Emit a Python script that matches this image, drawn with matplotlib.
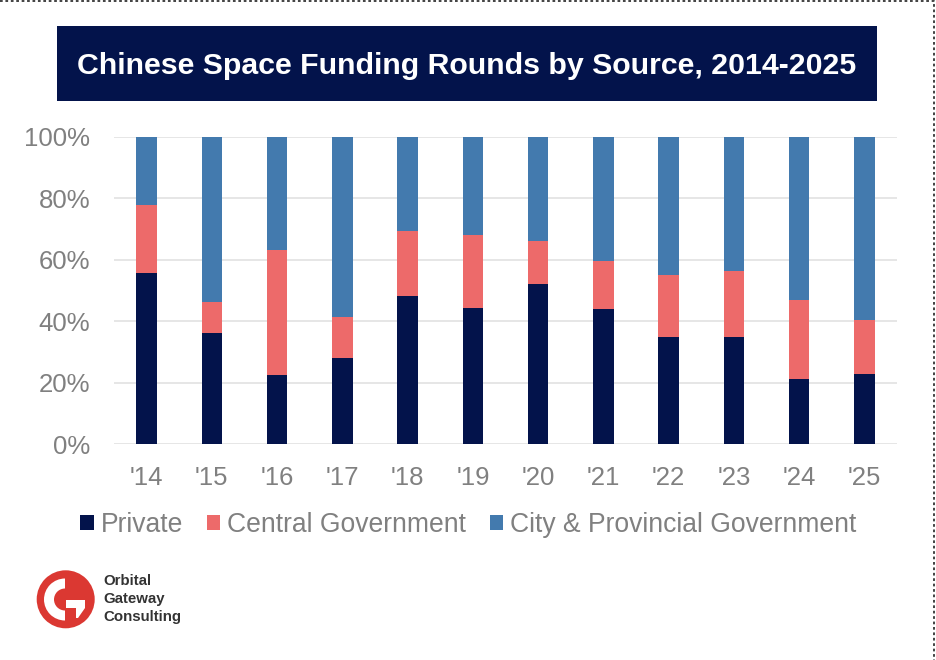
import matplotlib
matplotlib.use("Agg")
import matplotlib.pyplot as plt
from matplotlib.patches import Rectangle, Circle, Wedge, Polygon

plt.rcParams['font.family'] = ['Liberation Sans', 'DejaVu Sans']

years = ["'14", "'15", "'16", "'17", "'18", "'19", "'20", "'21", "'22", "'23", "'24", "'25"]
private = [55.7, 36.0, 22.5, 28.0, 48.3, 44.3, 52.0, 44.0, 34.7, 35.0, 21.3, 22.8]
central = [22.1, 10.3, 40.8, 13.3, 21.0, 23.7, 14.0, 15.5, 20.3, 21.3, 25.7, 17.7]
city = [22.2, 53.7, 36.7, 58.7, 30.7, 32.0, 34.0, 40.5, 45.0, 43.7, 53.0, 59.5]

NAVY = '#03134b'
RED = '#ed6a6a'
BLUE = '#437aae'
GREY = '#808080'
W, H = 936, 660

fig = plt.figure(figsize=(W / 100, H / 100), dpi=100, facecolor='white')

# page layer in pixel coordinates: banner, frame and logo
page = fig.add_axes([0, 0, 1, 1])
page.set_xlim(0, W)
page.set_ylim(H, 0)
page.axis('off')

page.add_patch(Rectangle((57, 26), 820, 75, color=NAVY, lw=0))
page.text(466.5, 66, 'Chinese Space Funding Rounds by Source, 2014-2025', color='white',
          fontsize=21.8, fontweight='bold', ha='center', va='center')

page.plot([0, 934, 934], [1, 1, H], color='#333333', lw=1.3, ls=(0, (1.5, 1.5)))

page.add_patch(Circle((65.7, 599.3), 29, color='#db3832', lw=0))
page.add_patch(Wedge((65, 599.5), 21, 90, 270, width=10, color='white', lw=0))
page.add_patch(Polygon([(66, 600), (85, 600), (85, 608), (78, 618), (76, 618), (76, 608), (66, 608)],
                       color='white', lw=0))
for y, word in zip([581, 599.5, 617.5], ['Orbital', 'Gateway', 'Consulting']):
    page.text(103, y, word, color='#333333', fontsize=10.8, fontweight='bold', va='center')

# stacked bars
ax = fig.add_axes([114 / W, 1 - 444 / H, (897 - 114) / W, (444 - 137) / H])
ax.patch.set_alpha(0)
x = range(len(years))
bottom_central = [p for p in private]
bottom_city = [p + c for p, c in zip(private, central)]
ax.bar(x, private, width=0.315, color=NAVY, label='Private', zorder=3)
ax.bar(x, central, width=0.315, bottom=bottom_central, color=RED, label='Central Government', zorder=3)
ax.bar(x, city, width=0.315, bottom=bottom_city, color=BLUE, label='City & Provincial Government', zorder=3)

ax.set_xlim(-0.5, 11.5)
ax.set_ylim(0, 100)
ax.set_yticks([0, 20, 40, 60, 80, 100])
ax.set_yticklabels(['0%', '20%', '40%', '60%', '80%', '100%'])
ax.set_xticks(list(x))
ax.set_xticklabels(years)
ax.tick_params(axis='both', length=0, labelsize=18.5, labelcolor=GREY)
ax.tick_params(axis='y', pad=17)
ax.tick_params(axis='x', pad=16)
ax.grid(axis='y', color='#e2e2e2', lw=1.2, zorder=0)
ax.set_axisbelow(True)
for s in ['top', 'right', 'left', 'bottom']:
    ax.spines[s].set_visible(False)

ax.legend(loc='center', bbox_to_anchor=(468.5 / W, 1 - 525 / H), bbox_transform=fig.transFigure,
          ncol=3, frameon=False, fontsize=19.1, labelcolor=GREY, handlelength=0.5, handleheight=0.5,
          handletextpad=0.27, columnspacing=0.89, borderpad=0, borderaxespad=0)

fig.savefig('out.png', dpi=100)
